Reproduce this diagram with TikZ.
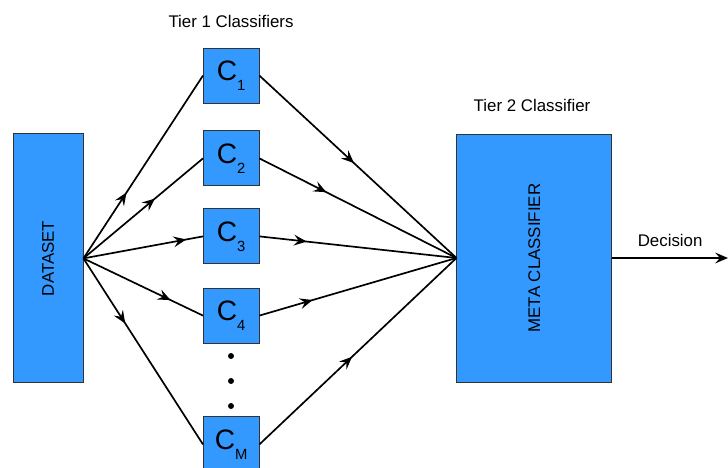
\documentclass[tikz,border=0pt]{standalone}
\usepackage{fontspec}
\setmainfont{Liberation Sans}
\usepackage{tikz}
\usetikzlibrary{arrows.meta,decorations.markings}

\definecolor{boxblue}{HTML}{3399FF}
\newcommand{\Cn}[1]{C\raisebox{-0.25cm}{\fontsize{10.5}{10.5}\selectfont #1}}

\begin{document}
\begin{tikzpicture}[x=1cm, y=1cm,
      box/.style={draw=black!80, line width=0.6pt, fill=boxblue, inner sep=0pt},
      cls/.style={box, minimum width=1.39cm, minimum height=1.375cm,
        font=\fontsize{20}{20}\selectfont},
      tip/.style={-{Stealth[length=3.2mm, width=2.7mm, inset=1.2mm]}},
      flow/.style={line width=1.2pt, postaction={decorate},
        decoration={markings, mark=at position #1 with
          {\arrow{Stealth[length=3.2mm, width=2.7mm, inset=1.2mm]}}}},
      lab/.style={font=\fontsize{12}{14}\selectfont}
    ]
    \clip (0,0) rectangle (18.2,11.7);

    % dataset and meta classifier
    \node[box, minimum width=1.75cm, minimum height=6.225cm, lab]
      (data) at (1.2,5.24) {\rotatebox{90}{DATASET}};
    \node[box, minimum width=3.875cm, minimum height=6.2cm, lab]
      (meta) at (13.36,5.25) {\rotatebox{90}{META CLASSIFIER}};

    % tier 1 classifiers
    \node[cls] (c1) at (5.78,9.81) {\Cn{1}};
    \node[cls] (c2) at (5.78,7.74) {\Cn{2}};
    \node[cls] (c3) at (5.78,5.79) {\Cn{3}};
    \node[cls] (c4) at (5.78,3.81) {\Cn{4}};
    \node[cls] (cm) at (5.78,0.59) {\Cn{M}};
    \foreach \y in {2.8,2.175,1.55}
      \fill (5.775,\y) circle (0.075);

    % labels
    \node[lab] (t1) at (5.775,11.17) {Tier 1 Classifiers};
    \node[lab] (t2) at (13.3,9.07) {Tier 2 Classifier};

    % dataset -> classifiers
    \draw[flow=0.36] (data.east) -- (c1.west);
    \draw[flow=0.6]  (data.east) -- (c2.west);
    \draw[flow=0.86] (data.east) -- (c3.west);
    \draw[flow=0.73] (data.east) -- (c4.west);
    \draw[flow=0.35] (data.east) -- (cm.west);

    % classifiers -> meta
    \draw[flow=0.48] (c1.east) -- (meta.west);
    \draw[flow=0.34] (c2.east) -- (meta.west);
    \draw[flow=0.24] (c3.east) -- (meta.west);
    \draw[flow=0.27] (c4.east) -- (meta.west);
    \draw[flow=0.47] (cm.east) -- (meta.west);

    % output
    \coordinate (out) at (18.2,5.25);
    \draw[tip, line width=1.2pt] (meta.east) -- (out)
      node[midway, above=1.5mm, lab] {Decision};
  \end{tikzpicture}
\end{document}
